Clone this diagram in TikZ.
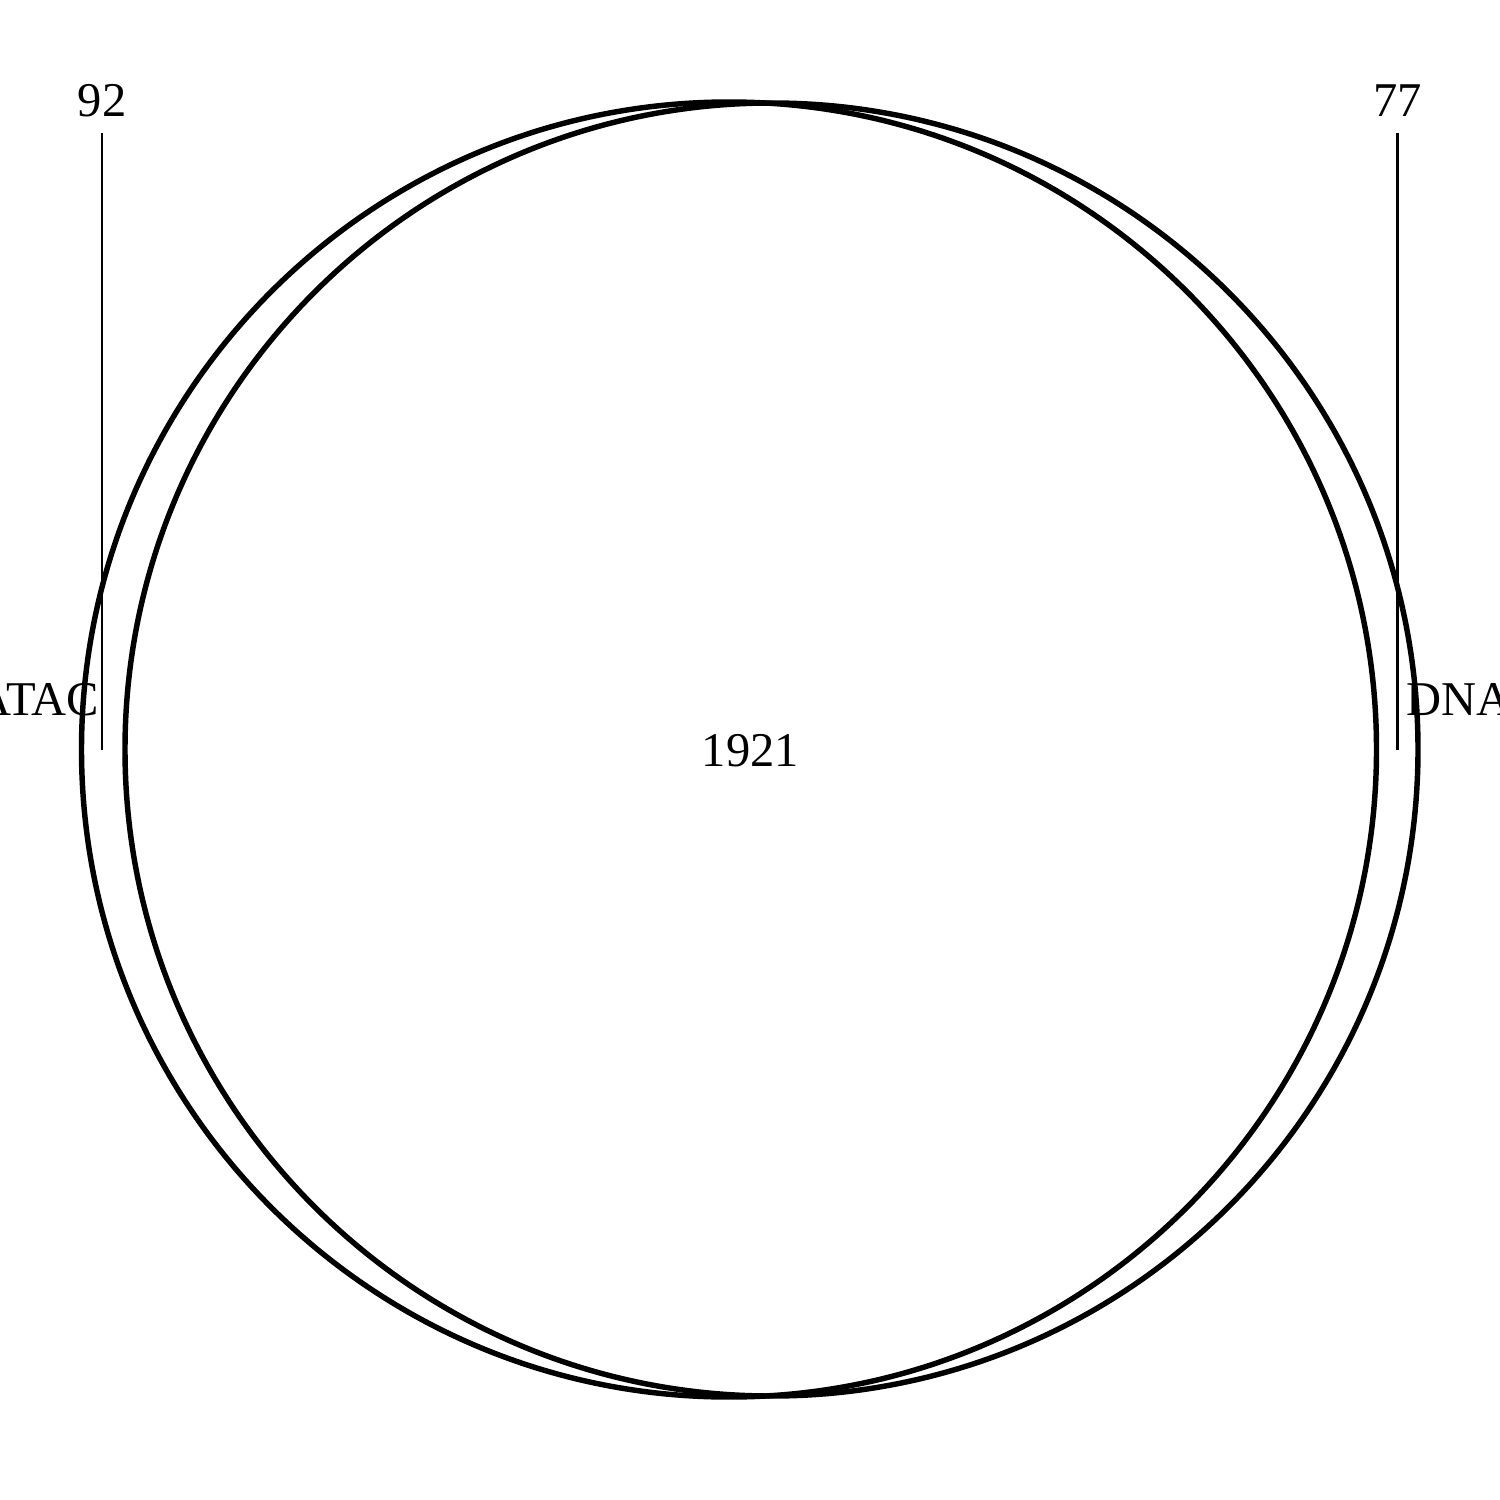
\documentclass[tikz,border=0pt]{standalone}
\usepackage{fontspec}
\setmainfont{Liberation Serif}
\begin{document}
\begin{tikzpicture}[x=0.01cm,y=-0.01cm,
  setcircle/.style={line width=1.55pt,draw=black},
  leader/.style={line width=0.8pt},
  lbl/.style={font=\fontsize{13.8pt}{16pt}\selectfont,inner sep=0pt}]
\useasboundingbox (0,0) rectangle (1500,1500);
\clip (0,0) rectangle (1500,1500);
\draw[setcircle] (729,749.5) circle[radius=647.5];
\draw[setcircle] (771.5,749.5) circle[radius=646.5];
\coordinate (la) at (102,133);
\coordinate (lb) at (102,750);
\coordinate (ra) at (1397.5,133);
\coordinate (rb) at (1397.5,750);
\draw[leader] (la) -- (lb);
\draw[leader] (ra) -- (rb);
\node[lbl,anchor=base] (n92) at (102,117) {92};
\node[lbl,anchor=base] (n77) at (1397.5,117) {77};
\node[lbl,anchor=base] (n1921) at (750.5,766) {1921};
\node[lbl,anchor=base east] (atac) at (100,715) {ATAC};
\node[lbl,anchor=base west] (dna) at (1406,715) {DNA};
\end{tikzpicture}
\end{document}
